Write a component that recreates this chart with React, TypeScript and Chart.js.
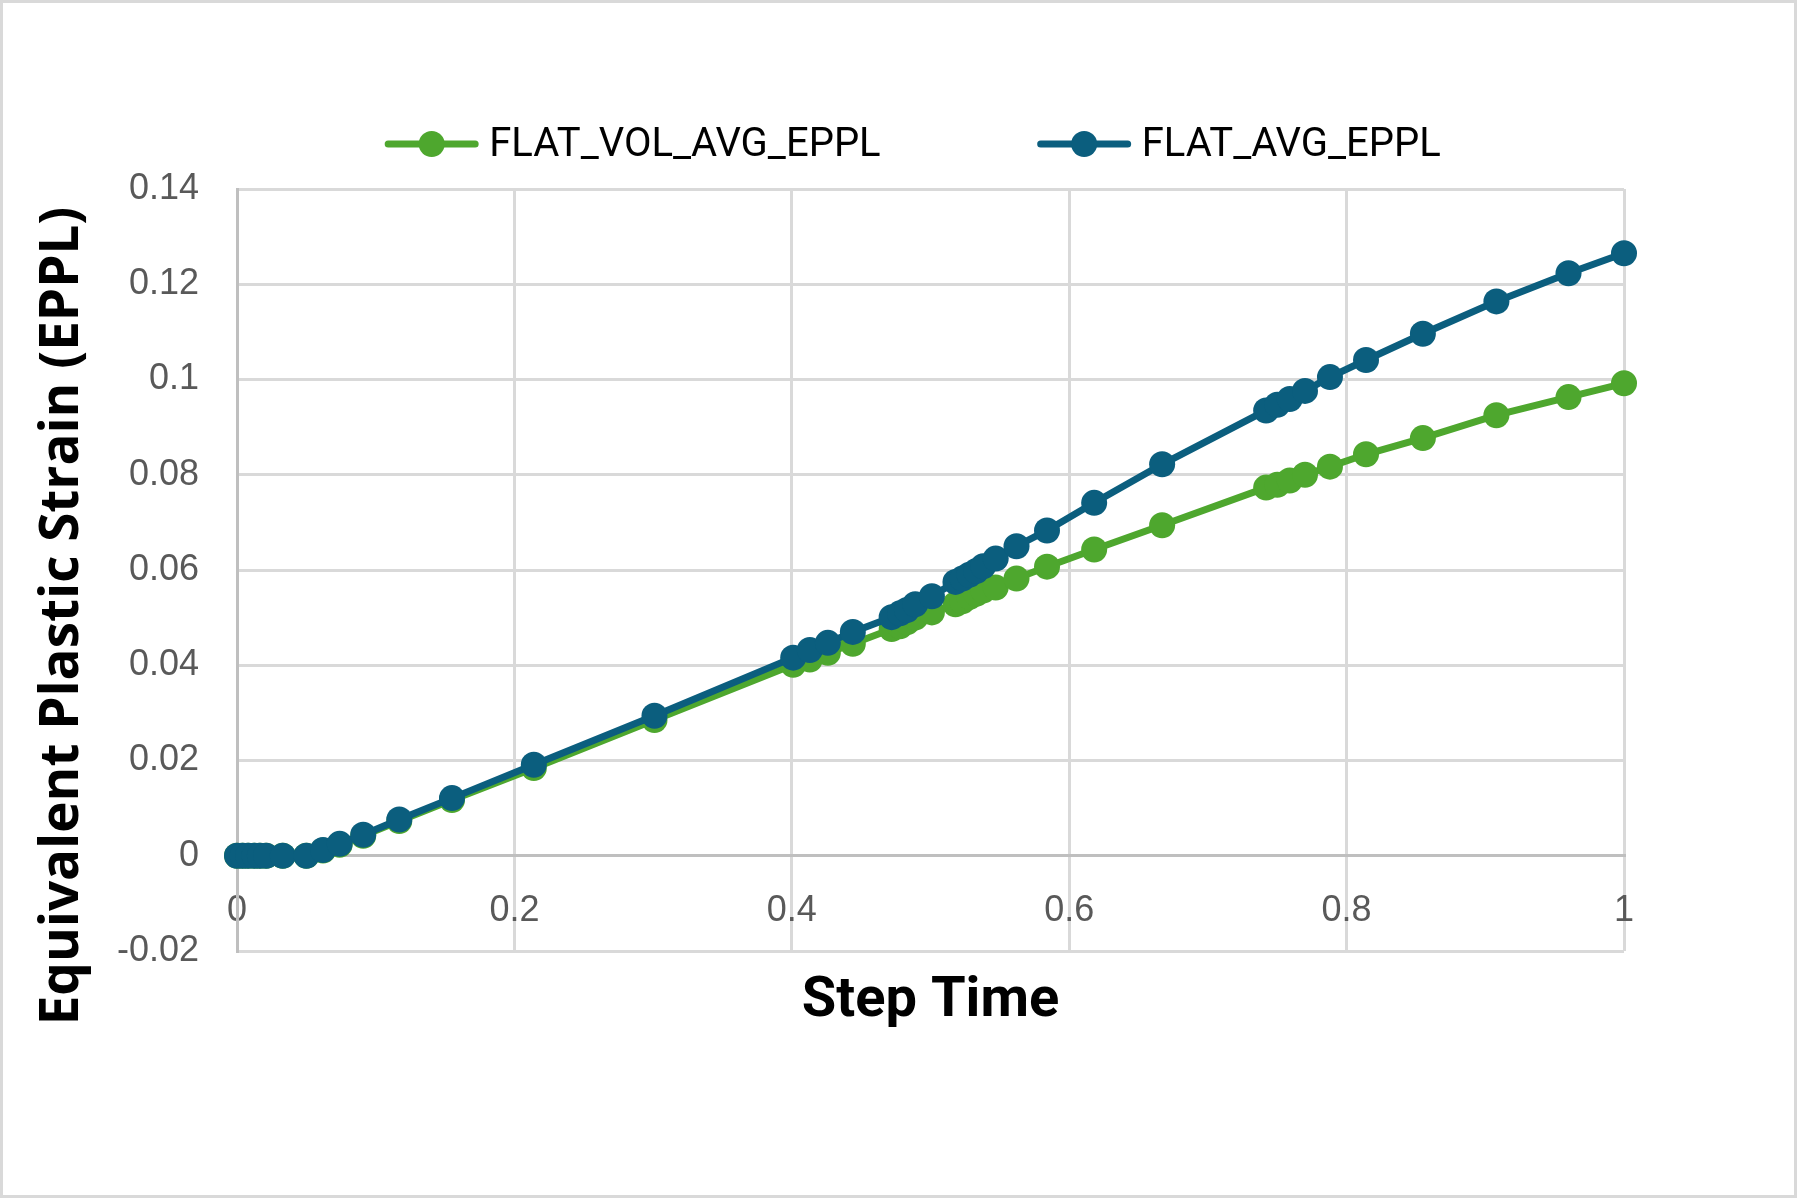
import { useEffect, useRef } from "react"
import { Chart, registerables } from "chart.js"

Chart.register(...registerables)

// Step times shared by both series
const stepTime = [
  0, 0.004, 0.008, 0.0125, 0.0165, 0.021, 0.033, 0.05, 0.062, 0.074, 0.091, 0.117, 0.155, 0.214, 0.301,
  0.401, 0.413, 0.426, 0.444, 0.472, 0.478, 0.483, 0.489, 0.501, 0.518, 0.523, 0.528, 0.533, 0.538, 0.547,
  0.562, 0.584, 0.618, 0.667, 0.742, 0.75, 0.759, 0.77, 0.788, 0.814, 0.855, 0.908, 0.96, 1.0,
]

const flatVolAvgEppl = [
  0, 0, 0, 0, 0, 0, 0, 0, 0.0011, 0.0023, 0.0042, 0.0073, 0.0117, 0.0184, 0.0285,
  0.0401, 0.0412, 0.0426, 0.0445, 0.0476, 0.0482, 0.049, 0.05, 0.0511, 0.0528, 0.0534, 0.0543, 0.055, 0.0557, 0.0563,
  0.0582, 0.0607, 0.0643, 0.0694, 0.0773, 0.0779, 0.0788, 0.08, 0.0817, 0.0843, 0.0877, 0.0925, 0.0963, 0.0992,
]

const flatAvgEppl = [
  0, 0, 0, 0, 0, 0, 0, 0, 0.0012, 0.0025, 0.0044, 0.0076, 0.0121, 0.0191, 0.0294,
  0.0416, 0.0432, 0.0447, 0.047, 0.0501, 0.0509, 0.0516, 0.0528, 0.0545, 0.0575, 0.0582, 0.059, 0.0598, 0.0608, 0.0624,
  0.065, 0.0683, 0.0741, 0.0822, 0.0935, 0.0947, 0.0959, 0.0976, 0.1005, 0.1041, 0.1096, 0.1164, 0.1223, 0.1265,
]

const xTickValues = [0, 0.2, 0.4, 0.6, 0.8, 1]
const xTickLabels = ["0", "0.2", "0.4", "0.6", "0.8", "1"]
const yTickValues = [-0.02, 0, 0.02, 0.04, 0.06, 0.08, 0.1, 0.12, 0.14]
const yTickLabels = ["-0.02", "0", "0.02", "0.04", "0.06", "0.08", "0.1", "0.12", "0.14"]

const GREEN = "#4EA72E"
const BLUE = "#0B5E7E"
const GRID = "#d9d9d9"
const AXIS = "#bfbfbf"
const TICK_FONT = { family: "'Liberation Sans', Arial, sans-serif", size: 36 }

// Background, outer frame, legend and axis titles
const decorPlugin = {
  id: "decor",
  beforeDraw(chart: Chart) {
    const { ctx, width, height } = chart
    ctx.save()
    ctx.fillStyle = "#ffffff"
    ctx.fillRect(0, 0, width, height)
    ctx.strokeStyle = GRID
    ctx.lineWidth = 3
    ctx.strokeRect(1.5, 1.5, width - 3, height - 3)
    ctx.restore()
  },
  afterDraw(chart: Chart) {
    const { ctx, chartArea } = chart
    ctx.save()

    // legend
    ctx.font = "40px Roboto"
    const items = chart.data.datasets.map((ds: any) => ({
      label: ds.label as string,
      color: ds.borderColor as string,
      w: ctx.measureText(ds.label).width,
    }))
    const lineW = 87
    const textGap = 14
    const itemGap = 160
    const total = items.reduce((s, it) => s + lineW + textGap + it.w, 0) + itemGap * (items.length - 1)
    let x = (chart.width - total) / 2 + 16
    const y = 144
    items.forEach((it) => {
      ctx.strokeStyle = it.color
      ctx.lineWidth = 7
      ctx.lineCap = "round"
      ctx.beginPath()
      ctx.moveTo(x, y)
      ctx.lineTo(x + lineW, y)
      ctx.stroke()
      ctx.fillStyle = it.color
      ctx.beginPath()
      ctx.arc(x + lineW / 2, y, 13, 0, Math.PI * 2)
      ctx.fill()
      ctx.fillStyle = "#000000"
      ctx.textAlign = "left"
      ctx.textBaseline = "middle"
      ctx.fillText(it.label, x + lineW + textGap, y + 2)
      x += lineW + textGap + it.w + itemGap
    })

    // axis titles
    ctx.fillStyle = "#000000"
    ctx.textAlign = "center"
    ctx.textBaseline = "middle"
    ctx.font = "bold 56px Roboto"
    ctx.fillText("Step Time", (chartArea.left + chartArea.right) / 2, chartArea.bottom + 51)

    ctx.translate(63, (chartArea.top + chartArea.bottom) / 2 + 46)
    ctx.rotate(-Math.PI / 2)
    ctx.font = "bold 53px 'Open Sans'"
    ctx.fillText("Equivalent Plastic Strain (EPPL)", 0, 0)
    ctx.restore()
  },
}

function StrainChart() {
  const canvasRef = useRef<HTMLCanvasElement>(null)
  const chartRef = useRef<Chart | null>(null)

  useEffect(() => {
    if (!canvasRef.current) return
    if (chartRef.current) chartRef.current.destroy()

    chartRef.current = new Chart(canvasRef.current, {
      type: "line",
      data: {
        datasets: [
          {
            label: "FLAT_VOL_AVG_EPPL",
            data: stepTime.map((t, i) => ({ x: t, y: flatVolAvgEppl[i] })),
            borderColor: GREEN,
            backgroundColor: GREEN,
            borderWidth: 7,
            pointRadius: 13,
            pointBorderWidth: 0,
            pointBackgroundColor: GREEN,
            clip: false,
            order: 2,
          },
          {
            label: "FLAT_AVG_EPPL",
            data: stepTime.map((t, i) => ({ x: t, y: flatAvgEppl[i] })),
            borderColor: BLUE,
            backgroundColor: BLUE,
            borderWidth: 7,
            pointRadius: 13,
            pointBorderWidth: 0,
            pointBackgroundColor: BLUE,
            clip: false,
            order: 1,
          },
        ],
      },
      options: {
        animation: false,
        responsive: true,
        maintainAspectRatio: false,
        layout: { padding: { top: 189, right: 173, bottom: 247, left: 0 } },
        plugins: {
          legend: { display: false },
          tooltip: { enabled: false },
        },
        scales: {
          x: {
            type: "linear",
            position: { y: 0 } as any,
            min: 0,
            max: 1,
            afterBuildTicks: (scale: any) => {
              scale.ticks = xTickValues.map((v) => ({ value: v }))
            },
            ticks: {
              callback: (v: any) => xTickLabels[xTickValues.indexOf(v)],
              font: TICK_FONT,
              color: "#595959",
              padding: 34,
              maxRotation: 0,
              autoSkip: false,
            },
            grid: {
              color: (c: any) => (c.tick && c.tick.value === 0 ? AXIS : GRID),
              lineWidth: 3,
              drawTicks: false,
            },
            border: { display: true, color: AXIS, width: 3 },
          },
          y: {
            type: "linear",
            min: -0.02,
            max: 0.14,
            afterBuildTicks: (scale: any) => {
              scale.ticks = yTickValues.map((v) => ({ value: v }))
            },
            afterFit: (scale: any) => {
              scale.width = 237
            },
            ticks: {
              callback: (v: any) => yTickLabels[yTickValues.indexOf(v)],
              font: TICK_FONT,
              color: "#595959",
              padding: 38,
            },
            grid: {
              color: (c: any) => (c.tick && c.tick.value === 0 ? AXIS : GRID),
              lineWidth: 3,
              drawTicks: false,
            },
            border: { display: true, color: AXIS, width: 3 },
          },
        },
      },
      plugins: [decorPlugin],
    })

    return () => {
      if (chartRef.current) {
        chartRef.current.destroy()
        chartRef.current = null
      }
    }
  }, [])

  return (
    <div style={{ position: "absolute", left: 0, top: 0, width: 1797, height: 1198 }}>
      <canvas ref={canvasRef} />
    </div>
  )
}

export default function App() {
  return <StrainChart />
}
